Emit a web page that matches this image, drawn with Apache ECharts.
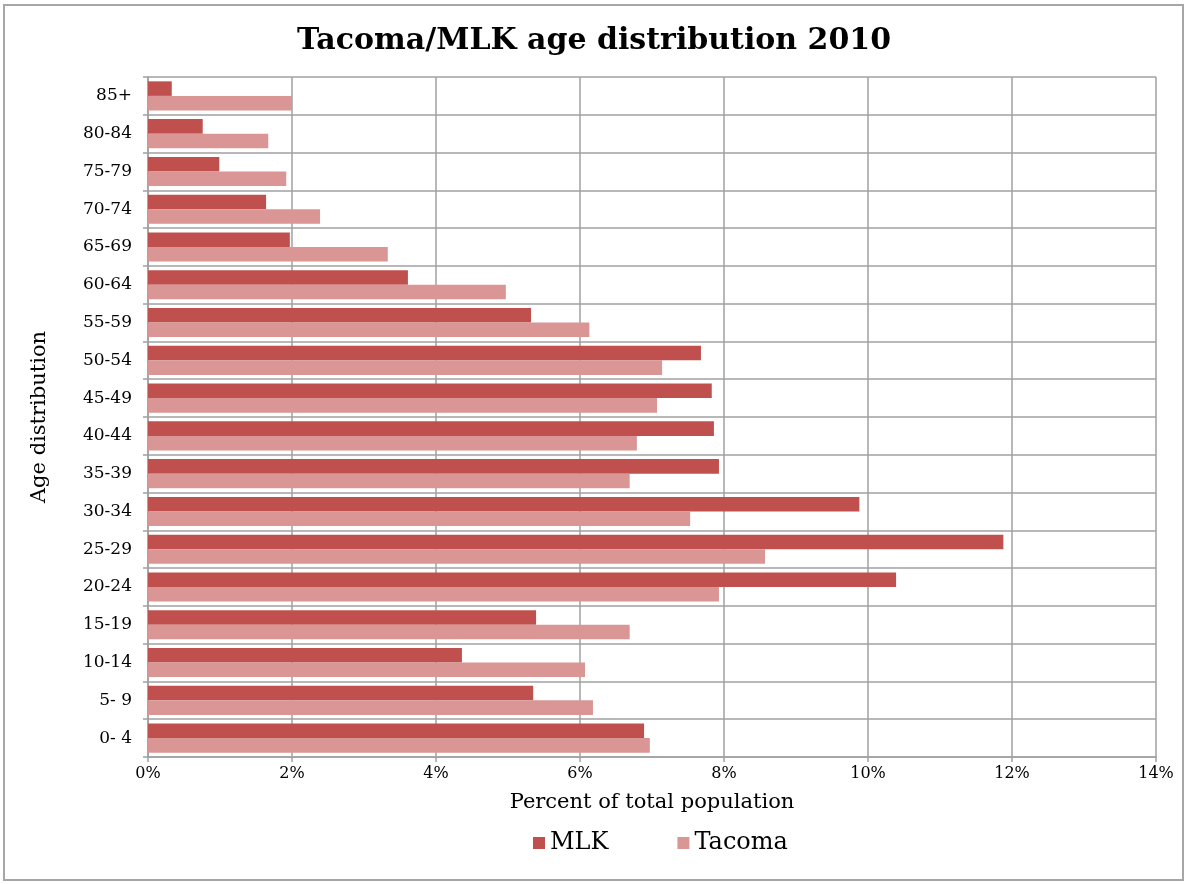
<!DOCTYPE html>
<html>
<head>
<meta charset="utf-8">
<style>
  html, body { margin: 0; padding: 0; background: #fff; }
  #chart { width: 1188px; height: 884px; }
</style>
<script src="https://cdn.jsdelivr.net/npm/echarts@6/dist/echarts.min.js"></script>
</head>
<body>
<div id="chart"></div>
<script>
// Age groups, bottom to top
const ageGroups = ['0- 4', '5- 9', '10-14', '15-19', '20-24', '25-29', '30-34', '35-39', '40-44',
                   '45-49', '50-54', '55-59', '60-64', '65-69', '70-74', '75-79', '80-84', '85+'];
// Percent of total population in each age group
const mlkShare    = [6.89, 5.35, 4.36, 5.39, 10.39, 11.88, 9.88, 7.93, 7.86, 7.83, 7.68, 5.32, 3.61, 1.97, 1.64, 0.99, 0.76, 0.33];
const tacomaShare = [6.97, 6.18, 6.07, 6.69, 7.93, 8.57, 7.53, 6.69, 6.79, 7.07, 7.14, 6.13, 4.97, 3.33, 2.39, 1.92, 1.67, 2.00];
const seriesNames = ['MLK', 'Tacoma'];
const percentTicks = [0, 2, 4, 6, 8, 10, 12, 14];

const serif = '"DejaVu Serif", "Liberation Serif", serif';
const gridColor = '#a0a0a0';

const chart = echarts.init(document.getElementById('chart'), null, { renderer: 'canvas' });
chart.setOption({
  animation: false,
  backgroundColor: '#ffffff',
  graphic: [{
    type: 'rect',
    shape: { x: 4, y: 5, width: 1179, height: 875 },
    style: { fill: 'none', stroke: '#a6a6a6', lineWidth: 2 },
    silent: true
  }],
  title: {
    text: 'Tacoma/MLK age distribution 2010',
    left: 'center',
    top: 21,
    textStyle: { fontFamily: serif, fontWeight: 'bold', fontSize: 30, color: '#000' }
  },
  // legend sits centred under the plot area rather than the page
  legend: {
    data: seriesNames,
    bottom: 24,
    left: 528,
    itemWidth: 12,
    itemHeight: 12,
    itemGap: 69,
    icon: 'rect',
    textStyle: { fontFamily: serif, fontSize: 24, color: '#000' }
  },
  grid: { left: 148, right: 32, top: 77, height: 680, containLabel: false },
  xAxis: {
    type: 'value',
    min: percentTicks[0],
    max: percentTicks[percentTicks.length - 1],
    interval: 2,
    name: 'Percent of total population',
    nameLocation: 'middle',
    nameGap: 35,
    nameTextStyle: { fontFamily: serif, fontSize: 21, color: '#000' },
    axisLine: { show: true, lineStyle: { color: gridColor, width: 1.5 } },
    axisTick: { show: true, length: 5, lineStyle: { color: gridColor, width: 1.5 } },
    axisLabel: { fontFamily: serif, fontSize: 16, color: '#000', margin: 9, formatter: v => v + '%' },
    splitLine: { show: true, lineStyle: { color: gridColor, width: 1.5 } }
  },
  yAxis: {
    type: 'category',
    data: ageGroups,
    name: 'Age distribution',
    nameLocation: 'middle',
    nameGap: 98,
    nameRotate: 90,
    nameTextStyle: { fontFamily: serif, fontSize: 21, color: '#000' },
    axisLine: { show: true, lineStyle: { color: gridColor, width: 1.5 } },
    axisTick: { show: true, length: 5, lineStyle: { color: gridColor, width: 1.5 } },
    axisLabel: { fontFamily: serif, fontSize: 17, color: '#000', margin: 16 },
    splitLine: { show: true, lineStyle: { color: gridColor, width: 1.5 } }
  },
  series: [
    {
      name: seriesNames[0],
      type: 'bar',
      data: mlkShare,
      barGap: '0%',
      barCategoryGap: '23%',
      itemStyle: { color: '#c0504d' }
    },
    {
      name: seriesNames[1],
      type: 'bar',
      data: tacomaShare,
      barGap: '0%',
      barCategoryGap: '23%',
      itemStyle: { color: '#d99694' }
    }
  ]
});
</script>
</body>
</html>
